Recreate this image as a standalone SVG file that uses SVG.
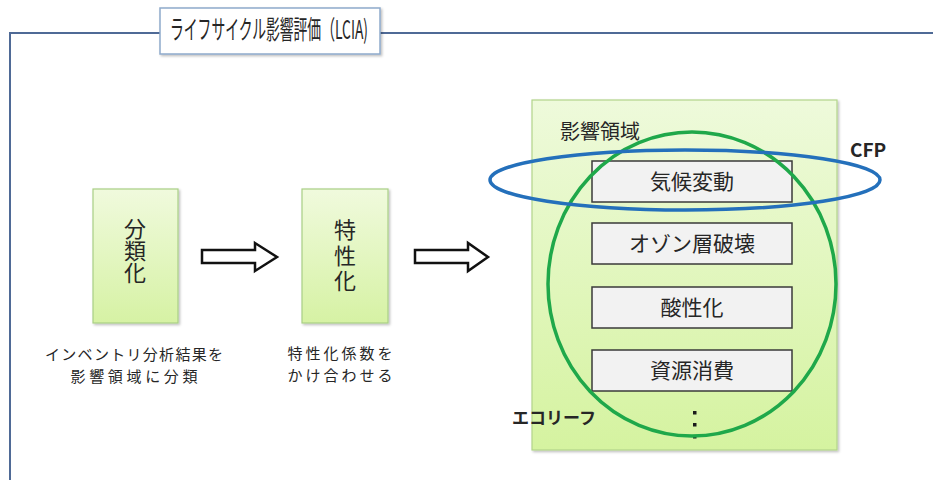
<svg xmlns="http://www.w3.org/2000/svg" width="933" height="480" viewBox="0 0 933 480">
<defs>
<linearGradient id="gBox" x1="0" y1="0" x2="0" y2="1">
<stop offset="0" stop-color="#f0fadd"/>
<stop offset="1" stop-color="#d6f2a4"/>
</linearGradient>
<linearGradient id="gBig" x1="0" y1="0" x2="0" y2="1">
<stop offset="0" stop-color="#eefadb"/>
<stop offset="1" stop-color="#d5f3a0"/>
</linearGradient>
<filter id="sh" x="-5%" y="-5%" width="115%" height="115%">
<feDropShadow dx="1.5" dy="1.5" stdDeviation="1" flood-color="#000" flood-opacity="0.25"/>
</filter>
</defs>
<style>
text{font-family:"Noto Sans CJK JP","Noto Sans",sans-serif;fill:#262626;}
.step{fill:url(#gBox);stroke:#a9cf85;stroke-width:1.2;}
.big{fill:url(#gBig);stroke:#b2d48a;stroke-width:1.2;}
.cat{fill:#f2f2f2;stroke:#3a3a3a;stroke-width:1.5;}
.arrow{fill:#fff;stroke:#111;stroke-width:2.5;stroke-linejoin:miter;}
.vert{font-size:22px;writing-mode:vertical-rl;}
.c21{font-size:21px;text-anchor:middle;}
.cap{font-size:15px;text-anchor:middle;}
</style>

<g id="frame">
<path d="M935,33 H10 V482" fill="none" stroke="#4f6a96" stroke-width="2"/>
</g>

<g id="title">
<rect x="160" y="8" width="220" height="46" fill="#fff" stroke="#8eaacb" stroke-width="1.5" filter="url(#sh)"/>
<text x="170" y="39" font-size="26" textLength="198" lengthAdjust="spacingAndGlyphs">ライフサイクル影響評価（LCIA)</text>
</g>

<g id="classification">
<rect class="step" x="93" y="189" width="85" height="134" filter="url(#sh)"/>
<text class="vert" x="135" y="218">分類化</text>
<text class="cap" x="134" y="360"><tspan x="134" y="360" textLength="178">インベントリ分析結果を</tspan><tspan x="134" y="382" textLength="127">影響領域に分類</tspan></text>
</g>

<g id="characterization">
<rect class="step" x="302" y="189" width="86" height="134" filter="url(#sh)"/>
<text class="vert" x="345" y="219" letter-spacing="3.5">特性化</text>
<text class="cap" x="340" y="359"><tspan x="340" y="359" textLength="105">特性化係数を</tspan><tspan x="340" y="381" textLength="105">かけ合わせる</tspan></text>
</g>

<g id="connectors">
<polygon class="arrow" points="202,250 255,250 255,243 277,257 255,271 255,263 202,263"/>
<polygon class="arrow" points="415,250 468,250 468,243 488,257 468,271 468,263 415,263"/>
</g>

<g id="impact-areas">
<rect class="big" x="532" y="100" width="305" height="350" filter="url(#sh)"/>
<text x="560" y="139" font-size="20">影響領域</text>
</g>

<g id="climate">
<rect class="cat" x="592" y="161" width="200" height="41"/>
<text class="c21" x="692" y="189">気候変動</text>
</g>
<g id="ozone">
<rect class="cat" x="592" y="223" width="200" height="41"/>
<text class="c21" x="692" y="251">オゾン層破壊</text>
</g>
<g id="acid">
<rect class="cat" x="592" y="287" width="200" height="41"/>
<text class="c21" x="692" y="315">酸性化</text>
</g>
<g id="resource">
<rect class="cat" x="592" y="350" width="200" height="41"/>
<text class="c21" x="692" y="378">資源消費</text>
</g>

<g id="more">
<rect x="693" y="411" width="3.5" height="3.5" fill="#1a1a1a"/>
<rect x="693" y="423" width="3.5" height="3.5" fill="#1a1a1a"/>
<rect x="693" y="435" width="3.5" height="3.5" fill="#1a1a1a"/>
</g>

<g id="ecoleaf">
<ellipse cx="692" cy="284" rx="144" ry="152" fill="none" stroke="#1fa84a" stroke-width="3.5"/>
<text x="512" y="424" font-size="17" font-weight="bold">エコリーフ</text>
</g>

<g id="cfp">
<ellipse cx="685" cy="180" rx="195" ry="30" fill="none" stroke="#2470bb" stroke-width="3.5"/>
<text x="850" y="157" font-size="19" font-weight="bold" font-family="'Liberation Sans',sans-serif">CFP</text>
</g>
</svg>
